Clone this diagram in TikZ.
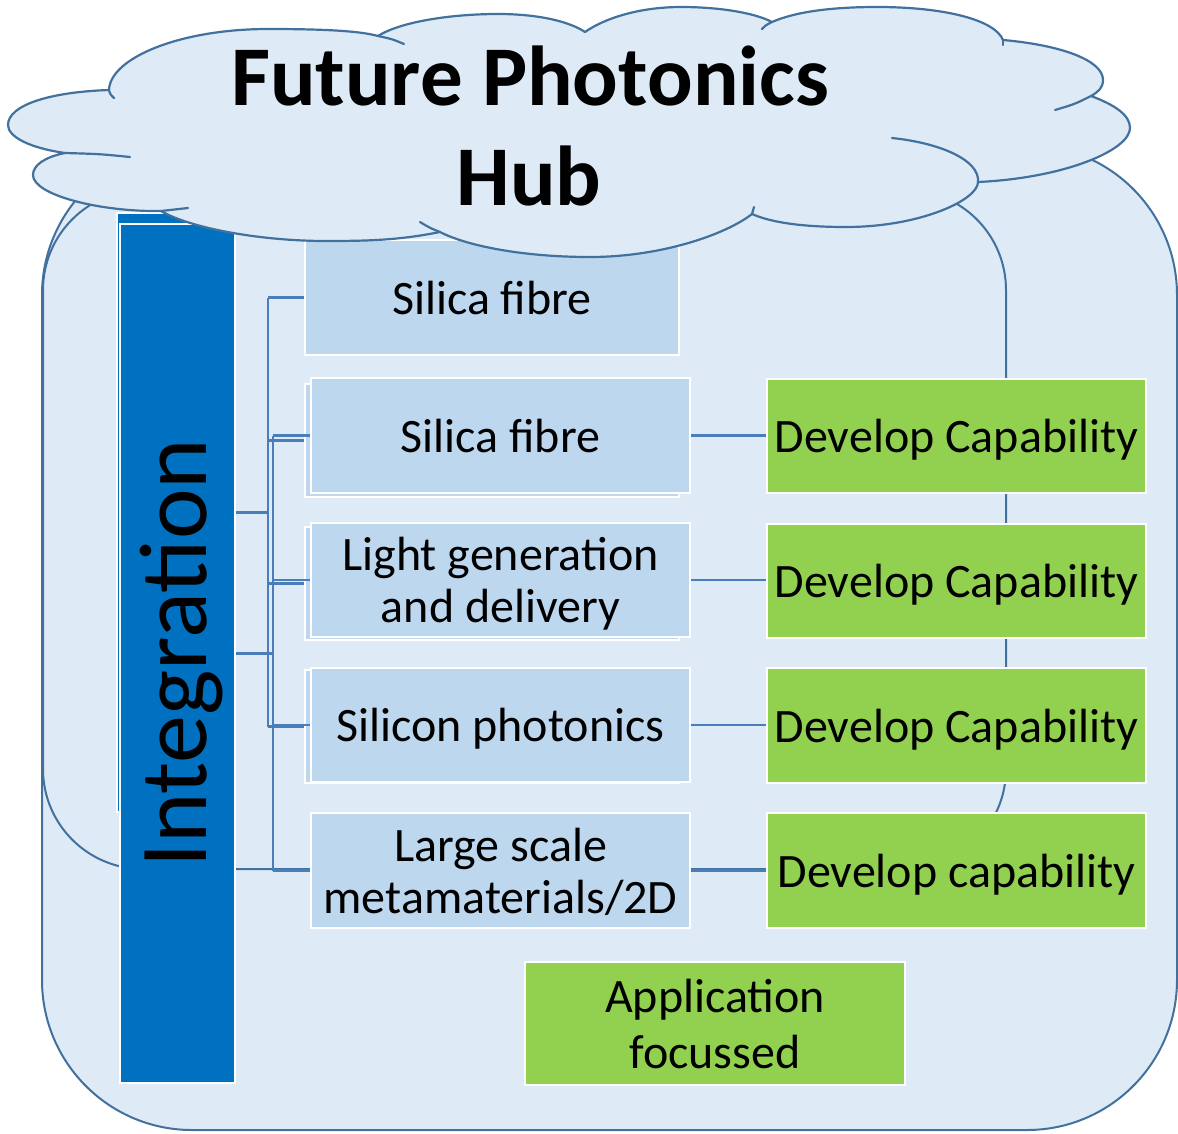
\documentclass[tikz,border=0pt]{standalone}
\usepackage{fontspec}
\setmainfont{Carlito}
\definecolor{bgblue}{HTML}{DEEBF7}
\definecolor{edgeblue}{HTML}{41719C}
\definecolor{boxblue}{HTML}{BDD7EE}
\definecolor{darkblue}{HTML}{0070C0}
\definecolor{capgreen}{HTML}{92D050}
\definecolor{connblue}{HTML}{4A7EBB}
\begin{document}
\begin{tikzpicture}[x=1pt,y=-1pt,
  frame/.style={draw=edgeblue, line width=2pt, fill=bgblue},
  cloudline/.style={draw=edgeblue, line width=2.2pt, line cap=round},
  sz/.style 2 args={minimum width=#1pt, minimum height=#2pt},
  bluebox/.style={draw=white, line width=2pt, fill=boxblue, inner sep=0pt, align=center, text depth=0pt, font=\fontsize{48}{52}\selectfont},
  greenbox/.style={draw=white, line width=2pt, fill=capgreen, inner sep=0pt, align=center, text depth=0pt, font=\fontsize{48}{52}\selectfont},
  intbox/.style={draw=white, line width=2pt, fill=darkblue, inner sep=0pt},
  conn/.style={draw=connblue, line width=2.4pt}
]
\useasboundingbox (0,0) rectangle (1178,1133);
\fill[white] (0,0) rectangle (1178,1133);
% frames
\path[frame, rounded corners=150pt] (42,145) rectangle (1177,1130);
\path[frame, rounded corners=100pt] (43,190) rectangle (1006,869);
% integration bars
\node[intbox, sz={118}{599}] (intback) at (176,512.5) {};
\node[intbox, sz={115}{859}] (intbar) at (177.5,653.5) {};
\node[rotate=90, anchor=base, inner sep=0pt, font=\fontsize{96}{110}\selectfont] (inttext) at (206,653.5) {Integration};
% back boxes
\node[bluebox, sz={374}{115}] (box1) at (492,297.5) {Silica fibre};
\node[bluebox, sz={374}{113}] (box2b) at (492,440.5) {};
\node[bluebox, sz={374}{113}] (box3b) at (492,583.5) {};
\node[bluebox, sz={374}{113}] (box4b) at (492,726.5) {};
% left connectors
\coordinate (ta) at (268,0);
\coordinate (tb) at (273,0);
\draw[conn] (intback.east) -- (intback.east -| ta);
\draw[conn] (box1.west -| ta) -- (box4b.west -| ta);
\draw[conn] (box1.west -| ta) -- (box1.west);
\draw[conn] (box2b.west -| ta) -- (box2b.west);
\draw[conn] (box3b.west -| ta) -- (box3b.west);
\draw[conn] (box4b.west -| ta) -- (box4b.west);
% front boxes
\node[bluebox, sz={379}{115}] (box2) at (500.5,435.5) {Silica fibre};
\node[bluebox, sz={379}{114}] (box3) at (500.5,580) {Light generation\\and delivery};
\node[bluebox, sz={379}{114}] (box4) at (500.5,725) {Silicon photonics};
\node[bluebox, sz={379}{115}] (box5) at (500.5,870.5) {Large scale\\metamaterials/2D};
\draw[conn] (intbar.east) -- (intbar.east -| tb);
\draw[conn] (box2.west -| tb) -- (box5.west -| tb);
\draw[conn] (box2.west -| tb) -- (box2.west);
\draw[conn] (box3.west -| tb) -- (box3.west);
\draw[conn] (box4.west -| tb) -- (box4.west);
\draw[conn] (box5.west -| tb) -- (box5.west);
% green boxes
\node[greenbox, sz={379}{114}] (green1) at (956.5,436) {Develop Capability};
\node[greenbox, sz={379}{114}] (green2) at (956.5,581) {Develop Capability};
\node[greenbox, sz={379}{115}] (green3) at (956.5,725.5) {Develop Capability};
\node[greenbox, sz={379}{115}] (green4) at (956.5,870.5) {Develop capability};
\node[greenbox, sz={380}{123}, font=\fontsize{48}{56}\selectfont] (app) at (715,1023.5) {Application\\focussed};
\draw[conn] (box2.east) -- (box2.east -| green1.west);
\draw[conn] (box3.east) -- (box3.east -| green2.west);
\draw[conn] (box4.east) -- (box4.east -| green3.west);
\draw[conn] (box5.east) -- (box5.east -| green4.west);
% cloud
\path[fill=bgblue, draw=edgeblue, line width=2.2pt, line join=round]
 (109,90)
 .. controls (110,58) and (180,29) .. (268,29)
 .. controls (325,29) and (360,31) .. (378,36)
 .. controls (400,22) and (450,14) .. (498,14)
 .. controls (540,14) and (570,22) .. (585,32)
 .. controls (605,18) and (640,7) .. (681,7)
 .. controls (720,7) and (755,13) .. (772,22)
 .. controls (795,12) and (830,7) .. (877,7)
 .. controls (945,7) and (995,20) .. (1003,40)
 .. controls (1060,45) and (1103,60) .. (1103,80)
 .. controls (1103,88) and (1098,92) .. (1091,96)
 .. controls (1115,105) and (1130,115) .. (1130,128)
 .. controls (1130,150) and (1065,178) .. (978,182)
 .. controls (978,200) and (920,227) .. (846,227)
 .. controls (800,227) and (770,222) .. (752,214)
 .. controls (725,235) and (660,257) .. (590,257)
 .. controls (520,257) and (465,245) .. (440,232)
 .. controls (400,240) and (370,241) .. (326,241)
 .. controls (260,241) and (190,228) .. (161,211)
 .. controls (100,212) and (33,195) .. (33,175)
 .. controls (33,165) and (45,157) .. (65,153)
 .. controls (30,148) and (8,137) .. (8,125)
 .. controls (8,105) and (50,92) .. (109,90) -- cycle;
\draw[cloudline] (109,90) .. controls (110,94) .. (114,98);
\draw[cloudline] (378,36) .. controls (392,39) .. (404,44);
\draw[cloudline] (772,22) .. controls (766,25) .. (762,29);
\draw[cloudline] (1003,40) -- (1003,45);
\draw[cloudline] (1091,96) .. controls (1075,104) .. (1055,110);
\draw[cloudline] (978,182) .. controls (980,160) and (940,143) .. (892,138);
\draw[cloudline] (752,214) -- (754,207);
\draw[cloudline] (440,232) .. controls (430,228) .. (420,222);
\draw[cloudline] (161,211) .. controls (175,210) .. (188,208);
\draw[cloudline] (65,153) .. controls (100,154) .. (130,157);
% title
\node[anchor=base, inner sep=0pt, font=\bfseries\fontsize{85}{100}\selectfont] (title1) at (530,105) {Future Photonics};
\node[anchor=base, inner sep=0pt, font=\bfseries\fontsize{85}{100}\selectfont] (title2) at (529,205) {Hub};
\end{tikzpicture}
\end{document}
